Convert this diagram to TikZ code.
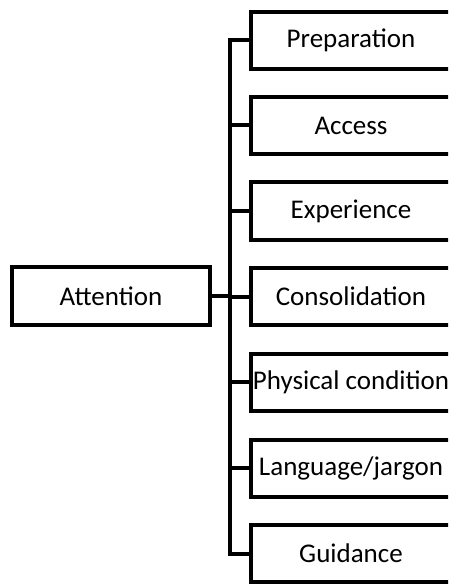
\documentclass[tikz,border=0pt]{standalone}
\usepackage{fontspec}
\setmainfont{Carlito}
\begin{document}
\begin{tikzpicture}[x=1pt,y=-1pt,
  box/.style={draw, line width=4pt, minimum width=200pt, minimum height=57pt,
    inner sep=0pt, font=\fontsize{27}{31}\selectfont},
  conn/.style={line width=4pt}]
\useasboundingbox (0,0) rectangle (448,585);
\clip (0,0) rectangle (448,585);
\node[box, minimum width=198pt, minimum height=58pt] (att) at (111,296) {Attention};
\node[box] (prep) at (351,40.5) {Preparation};
\node[box] (acc)  at (351,125.5) {Access};
\node[box] (exp)  at (351,211) {Experience};
\node[box] (cons) at (351,296.5) {Consolidation};
\node[box] (phys) at (351,382) {Physical condition};
\node[box] (lang) at (351,468) {Language/jargon};
\node[box] (guid) at (351,553.5) {Guidance};
\coordinate (bus) at (230,296);
\draw[conn] (att.east) -- (bus);
\foreach \n in {prep,acc,exp,cons,phys,lang,guid}
  \draw[conn] (bus) |- (\n.west);
\end{tikzpicture}
\end{document}
